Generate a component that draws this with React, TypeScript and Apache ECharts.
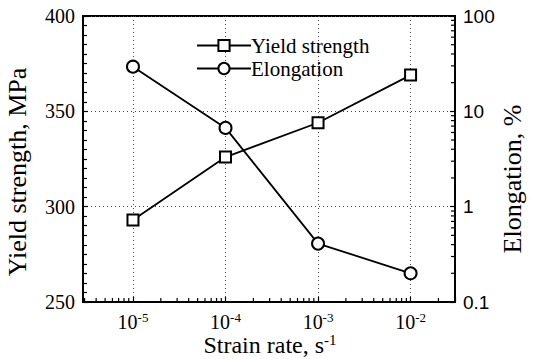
import React, { useEffect, useRef } from "react";
import * as echarts from "echarts";

// ---- data ----
const strainRates = [1e-5, 1e-4, 1e-3, 1e-2];
const yieldStrength = [293, 326, 344, 369];
const elongation = [29.4, 6.7, 0.41, 0.2];
const seriesNames = ["Yield strength", "Elongation"];

// ---- axis settings ----
const yieldMin = 250;
const yieldMax = 400;
const yieldInterval = 50;
const elongMin = 0.1;
const elongMax = 100;
const xMinExp = -5.54;
const xMaxExp = -1.52;
const xDecades = [-6, -5, -4, -3, -2];
const elongDecades = [0.1, 1, 10];
const minorMultipliers = [2, 3, 4, 5, 6, 7, 8, 9];

const SERIF = "Times New Roman";
const SANS = "Arial";

export default function App() {
  const ref = useRef<HTMLDivElement>(null);

  useEffect(() => {
    if (!ref.current) return;
    const chart = echarts.init(ref.current, undefined, { renderer: "svg" });

    const xMinVal = Math.pow(10, xMinExp);
    const xMaxVal = Math.pow(10, xMaxExp);

    const xMinor: number[] = [];
    xDecades.forEach((d) =>
      minorMultipliers.forEach((m) => {
        const v = m * Math.pow(10, d);
        if (v > xMinVal && v < xMaxVal) xMinor.push(v);
      })
    );
    const eMinor: number[] = [];
    elongDecades.forEach((d) =>
      minorMultipliers.forEach((m) => eMinor.push(m * d))
    );

    const option: any = {
      animation: false,
      grid: {
        left: 83,
        right: 78,
        top: 16,
        bottom: 57,
        show: true,
        borderColor: "#000",
        borderWidth: 2,
      },
      legend: {
        data: seriesNames,
        orient: "vertical",
        left: 196,
        top: 35,
        itemWidth: 54,
        itemHeight: 14,
        itemGap: 2,
        padding: 0,
        selectedMode: false,
        textStyle: { fontFamily: SERIF, fontSize: 21, color: "#000", lineHeight: 21, padding: [0, 0, 0, -5] },
      },
      xAxis: {
        type: "log",
        logBase: 10,
        min: xMinVal,
        max: xMaxVal,
        axisLine: { show: true, lineStyle: { color: "#000", width: 2 } },
        axisTick: { show: true, inside: true, length: 5, lineStyle: { color: "#000", width: 1.2 } },
        splitLine: { show: true, lineStyle: { color: "#444", width: 1, type: [1, 3] } },
        axisLabel: {
          margin: 9,
          color: "#000",
          fontFamily: SERIF,
          fontSize: 20,
          formatter: (v: number) => {
            const l = Math.log10(v);
            const e = Math.round(l);
            if (Math.abs(l - e) > 0.01) return "";
            return "{n|10}{s|" + e + "}";
          },
          rich: {
            n: { fontFamily: SERIF, fontSize: 20, color: "#000", lineHeight: 22 },
            s: { fontFamily: SERIF, fontSize: 13, color: "#000", verticalAlign: "top", lineHeight: 14 },
          },
        },
      },
      yAxis: [
        {
          type: "value",
          min: yieldMin,
          max: yieldMax,
          interval: yieldInterval,
          axisLine: { show: true, lineStyle: { color: "#000", width: 2 } },
          axisTick: { show: true, inside: true, length: 5, lineStyle: { color: "#000", width: 1.2 } },
          minorTick: { show: true, splitNumber: 10, length: 4, lineStyle: { color: "#000", width: 1.2 } },
          splitLine: { show: true, lineStyle: { color: "#444", width: 1, type: [1, 3] } },
          axisLabel: { margin: 8, color: "#000", fontFamily: SERIF, fontSize: 20 },
        },
        {
          type: "log",
          logBase: 10,
          min: elongMin,
          max: elongMax,
          position: "right",
          axisLine: { show: true, lineStyle: { color: "#000", width: 2 } },
          axisTick: { show: true, inside: true, length: 5, lineStyle: { color: "#000", width: 1.2 } },
          splitLine: { show: false },
          axisLabel: {
            margin: 8,
            color: "#000",
            fontFamily: SANS,
            fontSize: 19,
            formatter: (v: number) => String(v),
          },
        },
      ],
      graphic: [
        {
          type: "text",
          x: 17,
          y: 172,
          rotation: Math.PI / 2,
          style: {
            text: "Yield strength, MPa",
            fontFamily: SERIF,
            fontSize: 26,
            fill: "#000",
            align: "center",
            verticalAlign: "middle",
          },
        },
        {
          type: "text",
          x: 512,
          y: 179,
          rotation: Math.PI / 2,
          style: {
            text: "Elongation, %",
            fontFamily: SERIF,
            fontSize: 26,
            fill: "#000",
            align: "center",
            verticalAlign: "middle",
          },
        },
        {
          type: "text",
          x: 270,
          y: 345,
          style: {
            text: "{a|Strain rate, s}{b|-1}",
            fontFamily: SERIF,
            fontSize: 24,
            rich: {
              a: { fontFamily: SERIF, fontSize: 24, fill: "#000", lineHeight: 26 },
              b: { fontFamily: SERIF, fontSize: 15, fill: "#000", verticalAlign: "top", lineHeight: 16 },
            },
            align: "center",
            verticalAlign: "middle",
          },
        },
      ],
      series: [
        {
          name: seriesNames[0],
          type: "line",
          xAxisIndex: 0,
          yAxisIndex: 0,
          data: strainRates.map((x, i) => [x, yieldStrength[i]]),
          symbol: "emptyRect",
          symbolSize: 11,
          color: "#000",
          itemStyle: { color: "#000", borderWidth: 1.6 },
          lineStyle: { color: "#000", width: 1.8 },
          z: 10,
        },
        {
          name: seriesNames[1],
          type: "line",
          xAxisIndex: 0,
          yAxisIndex: 1,
          data: strainRates.map((x, i) => [x, elongation[i]]),
          symbol: "emptyCircle",
          symbolSize: 12,
          color: "#000",
          itemStyle: { color: "#000", borderWidth: 1.6 },
          lineStyle: { color: "#000", width: 1.8 },
          z: 10,
        },
        {
          name: "_xminor",
          type: "custom",
          xAxisIndex: 0,
          yAxisIndex: 0,
          silent: true,
          clip: false,
          data: xMinor.map((v) => [v, yieldMin]),
          renderItem: (params: any, api: any) => {
            const p = api.coord([api.value(0), api.value(1)]);
            return {
              type: "line",
              shape: { x1: p[0], y1: p[1], x2: p[0], y2: p[1] - 4 },
              style: { stroke: "#000", lineWidth: 1.2 },
            };
          },
          z: 5,
        },
        {
          name: "_eminor",
          type: "custom",
          xAxisIndex: 0,
          yAxisIndex: 1,
          silent: true,
          clip: false,
          data: eMinor.map((v) => [xMaxVal, v]),
          renderItem: (params: any, api: any) => {
            const p = api.coord([api.value(0), api.value(1)]);
            return {
              type: "line",
              shape: { x1: p[0], y1: p[1], x2: p[0] - 4, y2: p[1] },
              style: { stroke: "#000", lineWidth: 1.2 },
            };
          },
          z: 5,
        },
      ],
    };

    chart.setOption(option);
    return () => chart.dispose();
  }, []);

  return (
    <div
      ref={ref}
      style={{ position: "fixed", left: 0, top: 0, width: 533, height: 359, background: "#fff" }}
    />
  );
}
